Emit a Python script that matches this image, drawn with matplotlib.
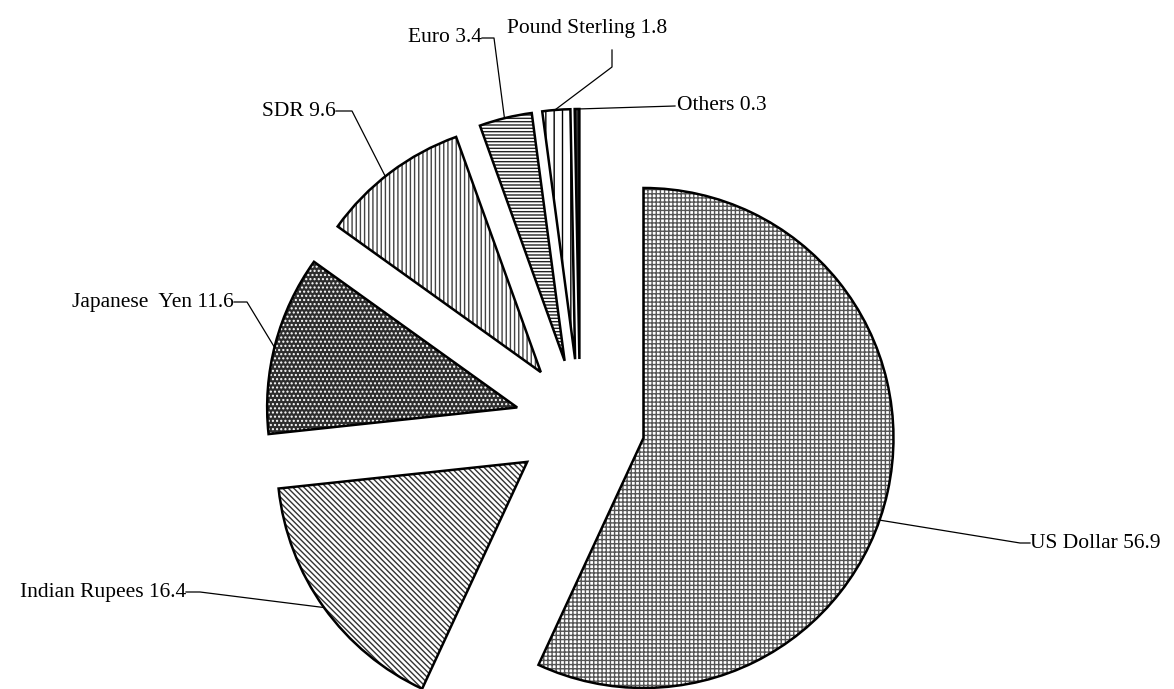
import numpy as np
import matplotlib.pyplot as plt
from matplotlib.patches import Wedge

plt.rcParams['font.family'] = ['Liberation Serif', 'DejaVu Serif']
plt.rcParams['hatch.linewidth'] = 1.0

currencies = ["US Dollar", "Indian Rupees", "Japanese  Yen", "SDR", "Euro", "Pound Sterling", "Others"]
shares = [56.9, 16.4, 11.6, 9.6, 3.4, 1.8, 0.3]

# pixel layout helpers (pie centre at 580,424, radius 250 px)
W, H = 1174, 689
CX, CY, R = 580, 424, 250


def px(x, y):
    return ((x - CX) / R, (CY - y) / R)


explode = 0.26
hatches = ["++++", "\\\\\\\\\\\\", "....", "||||", "-----", "||", None]
faces = ["white", "white", "#2e2e2e", "white", "white", "white", "#2e2e2e"]
hatch_cols = ["#555555", "#333333", "white", "#444444", "#222222", "black", "black"]

# label anchor (pixels), alignment, leader path (pixels), arc fraction for leader end
label_pos = [(1030, 543, "left", [(1030, 543), (1020, 543)]),
             (186, 592, "right", [(186, 592), (200, 592)]),
             (234, 302, "right", [(234, 302), (247, 302)]),
             (336, 111, "right", [(336, 111), (352, 111)]),
             (482, 38, "right", [(482, 38), (494, 38)]),
             (507, 28, "left", [(612, 50), (612, 67)]),
             (677, 106, "left", [(675, 106)])]
leader_frac = [0.533, 0.5, 0.48, 0.46, 0.48, 0.45, 0.5]

fig = plt.figure(figsize=(W / 100, H / 100), dpi=100)
ax = fig.add_axes([0, 0, 1, 1])
ax.set_xlim(-CX / R, (W - CX) / R)
ax.set_ylim(-(H - CY) / R, CY / R)
ax.axis("off")

total = sum(shares)
start = 90.0
for i, v in enumerate(shares):
    sweep = 360.0 * v / total
    t1 = start - sweep
    mid = np.deg2rad((start + t1) / 2)
    cx, cy = explode * np.cos(mid), explode * np.sin(mid)
    ax.add_patch(Wedge((cx, cy), 1.0, t1, start, facecolor=faces[i],
                       edgecolor=hatch_cols[i], hatch=hatches[i], linewidth=0))
    ax.add_patch(Wedge((cx, cy), 1.0, t1, start, fill=False,
                       edgecolor="black", linewidth=1.8))
    # leader line
    ang = np.deg2rad(start - sweep * leader_frac[i])
    ex, ey = cx + np.cos(ang), cy + np.sin(ang)
    tx, ty, ha, path = label_pos[i]
    pts = [px(*p) for p in path] + [(ex, ey)]
    ax.plot([p[0] for p in pts], [p[1] for p in pts], color="black", lw=0.9)
    lx, ly = px(tx, ty)
    ax.text(lx, ly, f"{currencies[i]} {v}", ha=ha, va="center", fontsize=15.5)
    start = t1

fig.savefig("out.png", dpi=100)
